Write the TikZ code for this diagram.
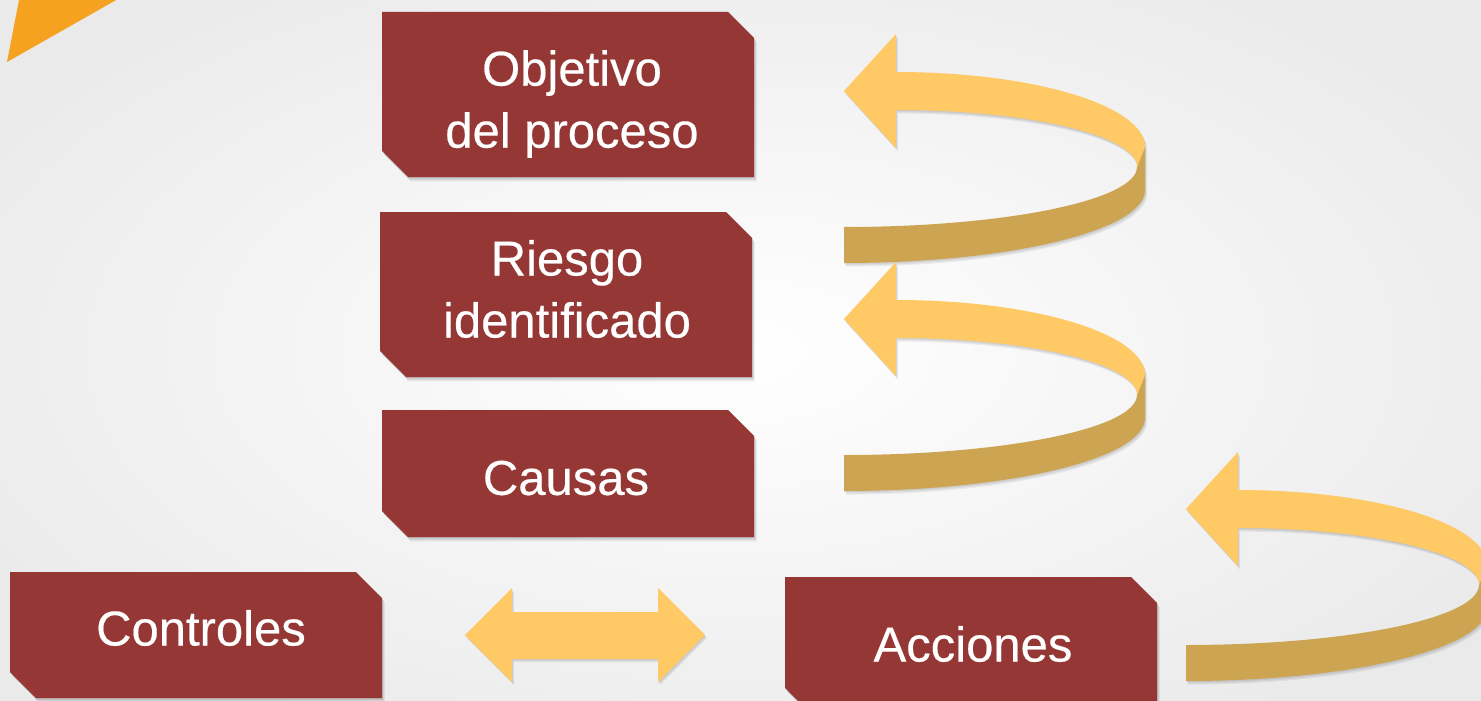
\documentclass[tikz,border=0pt]{standalone}
\usepackage{fontspec}
\setmainfont{Liberation Sans}
\newfontfamily\boxfont{Liberation Sans}[FakeBold=0.35]
\definecolor{boxred}{HTML}{953735}
\definecolor{goldlight}{HTML}{FFC966}
\definecolor{golddark}{HTML}{CDA452}
\definecolor{orangec}{HTML}{F4A21F}
\definecolor{bginner}{HTML}{FFFFFF}
\definecolor{bgouter}{HTML}{EAEAEA}
\tikzset{
  boxfill/.style={fill=boxred},
  boxtext/.style={text=white, font=\boxfont\fontsize{49}{62}\selectfont, align=center, inner sep=0pt},
  lightband/.style={fill=goldlight},
  darkband/.style={fill=golddark},
  softshadow/.style={fill=black, fill opacity=0.06},
}
\newcommand\snipbox[4]{%
  \foreach \d in {1,2,3,4}{%
    \fill[softshadow, shift={(\d*0.7,\d*1.1)}] (#1,#2) -- ({#3-26},#2) -- (#3,{#2+26}) -- (#3,#4) -- ({#1+26},#4) -- (#1,{#4-26}) -- cycle;}
  \fill[boxfill] (#1,#2) -- ({#3-26},#2) -- (#3,{#2+26}) -- (#3,#4) -- ({#1+26},#4) -- (#1,{#4-26}) -- cycle;
}
\newcommand\curlarrow[2]{%
  \begin{scope}[shift={(#1,#2)}]
    \foreach \d in {1,2,3}{%
      \begin{scope}[shift={(\d*0.7,\d*1.2)}]
        \fill[softshadow] (301,57) -- (301,100) .. controls (301,140.3) and (166.2,173) .. (0,173) -- (0,137) .. controls (161.8,137) and (293,110.1) .. (293,77) -- cycle;
        \fill[softshadow] (52,-18) .. controls (189.5,-18) and (301,15.6) .. (301,57) -- (293,77) .. controls (293,45.5) and (185,20) .. (52,20) -- (52,58) -- (0,1) -- (52,-56) -- cycle;
      \end{scope}}
    \fill[darkband] (301,57) -- (301,100) .. controls (301,140.3) and (166.2,173) .. (0,173) -- (0,137) .. controls (161.8,137) and (293,110.1) .. (293,77) -- cycle;
    \fill[lightband] (52,-18) .. controls (189.5,-18) and (301,15.6) .. (301,57) -- (293,77) .. controls (293,45.5) and (185,20) .. (52,20) -- (52,58) -- (0,1) -- (52,-56) -- cycle;
  \end{scope}
}
\begin{document}
\begin{tikzpicture}[x=1pt,y=-1pt]
  \useasboundingbox (0,0) rectangle (1481,701);
  \clip (0,0) rectangle (1481,701);
  \shade[inner color=bginner, outer color=bgouter] (-150,-100) rectangle (1631,801);
  % orange corner
  \fill[orangec] (7,62) -- (20,-5) -- (125,-5) -- cycle;
  % boxes
  \snipbox{382}{12}{754}{177}
  \snipbox{380}{212}{752}{377}
  \snipbox{382}{410}{754}{537}
  \snipbox{10}{572}{382}{698}
  \snipbox{785}{577}{1157}{714}
  \node[boxtext] (objetivo) at (572,104) {Objetivo\\del proceso};
  \node[boxtext] (riesgo) at (567,289) {Riesgo\\identificado};
  \node[boxtext] (causas) at (566,478) {Causas};
  \node[boxtext] (controles) at (201,628) {Controles};
  \node[boxtext] (acciones) at (973,644) {Acciones};
  % curled arrows
  \curlarrow{844}{90}
  \curlarrow{844}{318}
  \curlarrow{1186}{508}
  % double arrow
  \foreach \d in {1,2,3}{%
    \fill[softshadow, shift={(\d*0.7,\d*1.1)}] (465,635) -- (512,588) -- (512,612) -- (658,612) -- (658,588) -- (705,635) -- (658,682) -- (658,659) -- (512,659) -- (512,682) -- cycle;}
  \fill[lightband] (465,635) -- (512,588) -- (512,612) -- (658,612) -- (658,588) -- (705,635) -- (658,682) -- (658,659) -- (512,659) -- (512,682) -- cycle;
\end{tikzpicture}
\end{document}
